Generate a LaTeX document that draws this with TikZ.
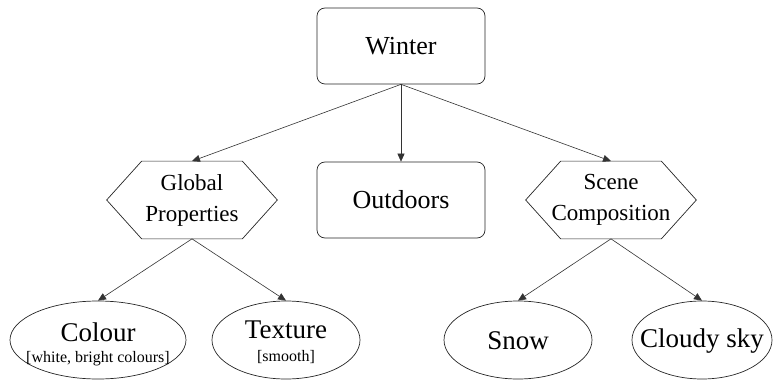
\documentclass[tikz,border=0pt]{standalone}
\usepackage{fontspec}
\setmainfont{Liberation Serif}
\usetikzlibrary{arrows.meta,shapes.geometric}
\begin{document}
\begin{tikzpicture}[x=1pt,y=-1pt,
  line width=0.7pt,
  box/.style={draw=black!85,rounded corners=8pt,minimum width=168pt,minimum height=76pt,inner sep=0pt,font=\fontsize{26}{30}\selectfont},
  hexa/.style={minimum width=170pt,minimum height=77pt,inner sep=0pt,align=center,font=\fontsize{23}{31}\selectfont},
  oval/.style={draw=black!85,ellipse,minimum height=78pt,inner sep=0pt},
  big/.style={inner sep=0pt,font=\fontsize{27}{29}\selectfont},
  small/.style={inner sep=0pt,font=\fontsize{16}{18}\selectfont},
  conn/.style={draw=black!80,line width=0.6pt,-{Triangle[length=8pt,width=7pt]}}]
\useasboundingbox (0,0) rectangle (773,382);
\node[box] (w) at (401,46) {Winter};
\node[box] (od) at (401,200) {Outdoors};
\node[hexa] (gp) at (192,200) {Global\\Properties};
\node[hexa] (sc) at (611,200) {Scene\\Composition};
\foreach \n in {gp,sc}{
  \draw[black!85] (\n.west) -- ([xshift=35pt]\n.north west) -- ([xshift=-35pt]\n.north east) -- (\n.east) -- ([xshift=-35pt]\n.south east) -- ([xshift=35pt]\n.south west) -- cycle;
}
\node[oval,minimum width=176pt] (c) at (98,340) {};
\node[oval,minimum width=148pt] (t) at (286,340) {};
\node[oval,minimum width=148pt] (s) at (518,340) {};
\node[oval,minimum width=140pt] (cs) at (702,340) {};
\node[big] (ct) at (98,332) {Colour};
\node[small] (cst) at (98,359) {[white, bright colours]};
\node[big] (tt) at (286,330) {Texture};
\node[small] (tst) at (286,357) {[smooth]};
\node[big] (st) at (518,341) {Snow};
\node[big] (cstx) at (702,341) {Cloudy sky};
\draw[conn] (w.south) -- (gp.north);
\draw[conn] (w.south) -- (od.north);
\draw[conn] (w.south) -- (sc.north);
\draw[conn] (gp.south) -- (c.north);
\draw[conn] (gp.south) -- (t.north);
\draw[conn] (sc.south) -- (s.north);
\draw[conn] (sc.south) -- (cs.north);
\end{tikzpicture}
\end{document}
